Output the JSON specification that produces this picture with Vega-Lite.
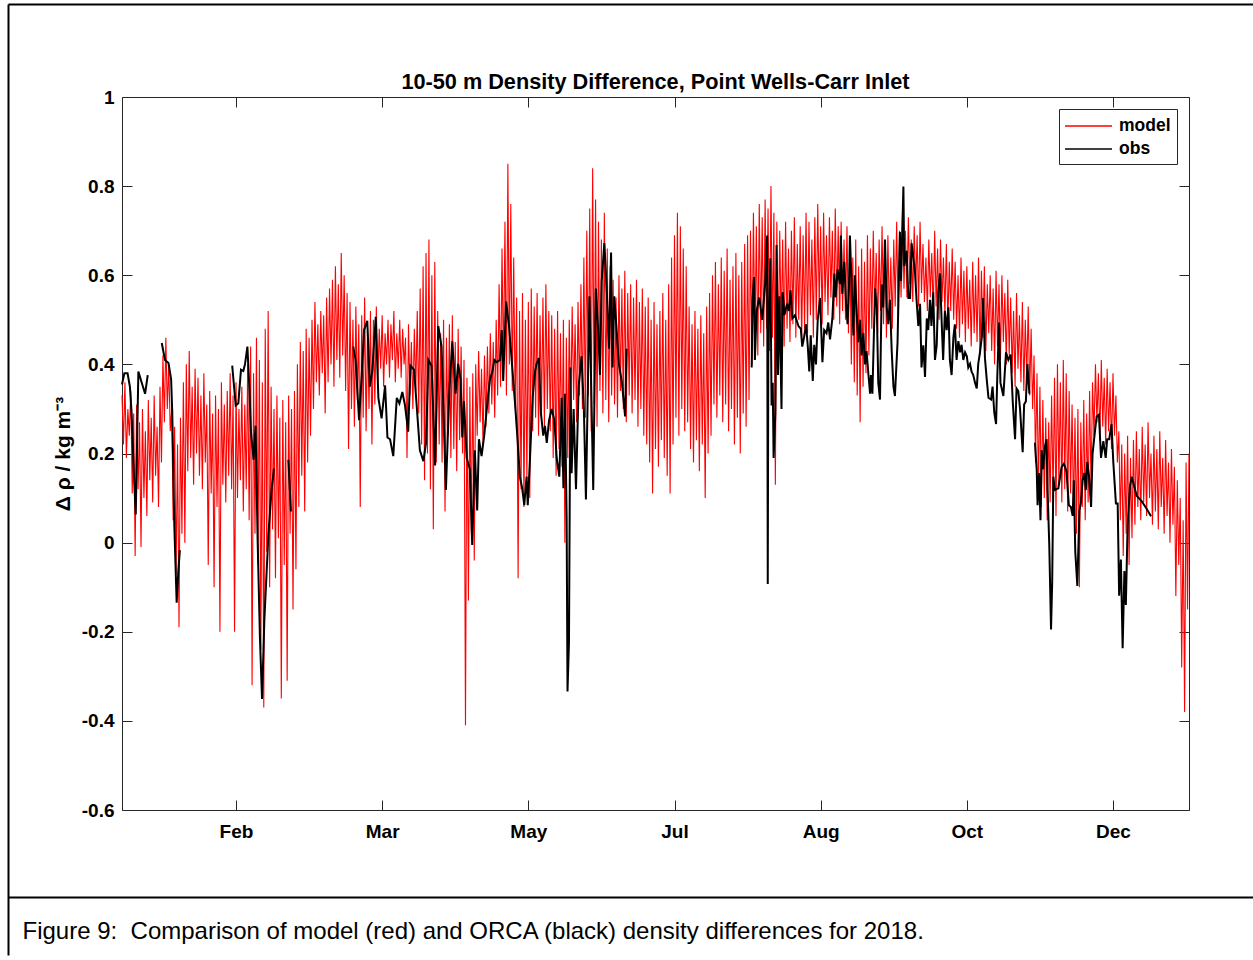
{
  "$schema": "https://vega.github.io/schema/vega-lite/v6.json",
  "padding": {"left": 5, "top": 4, "right": 0, "bottom": 0},
  "width": 1067,
  "height": 713,
  "background": "white",
  "config": {
    "font": "Liberation Sans",
    "view": {"stroke": "#262626", "strokeWidth": 1},
    "axis": {"grid": false, "labelColor": "black", "tickColor": "#262626", "tickWidth": 1, "titleColor": "black"}
  },
  "title": {
    "text": "10-50 m Density Difference, Point Wells-Carr Inlet",
    "font": "Liberation Sans",
    "fontSize": 21.7,
    "fontWeight": "bold",
    "color": "black",
    "anchor": "middle",
    "frame": "group",
    "offset": -90
  },
  "datasets": {
    "model": [
      {"d":0,"m":0.33},{"d":0.5,"m":0.22},{"d":1,"m":0.36},{"d":1.5,"m":0.19},{"d":2,"m":0.30},{"d":2.5,"m":0.24},{"d":3,"m":0.34},{"d":3.5,"m":0.11},{"d":4,"m":0.29},{"d":4.5,"m":-0.03},
      {"d":5,"m":0.31},{"d":5.5,"m":0.12},{"d":6,"m":0.27},{"d":6.5,"m":-0.01},{"d":7,"m":0.30},{"d":7.5,"m":0.10},{"d":8,"m":0.25},{"d":8.5,"m":0.06},{"d":9,"m":0.32},{"d":9.5,"m":0.14},
      {"d":10,"m":0.28},{"d":10.5,"m":0.09},{"d":11,"m":0.33},{"d":11.5,"m":0.15},{"d":12,"m":0.26},{"d":12.5,"m":0.08},{"d":13,"m":0.35},{"d":13.5,"m":0.18},{"d":14,"m":0.42},{"d":14.5,"m":0.27},
      {"d":15,"m":0.46},{"d":15.5,"m":0.30},{"d":16,"m":0.40},{"d":16.5,"m":0.25},{"d":17,"m":0.30},{"d":17.5,"m":0.05},{"d":18,"m":0.26},{"d":18.5,"m":-0.07},{"d":19,"m":0.22},{"d":19.5,"m":-0.19},
      {"d":20,"m":0.28},{"d":20.5,"m":0.02},{"d":21,"m":0.36},{"d":21.5,"m":0.00},{"d":22,"m":0.40},{"d":22.5,"m":0.16},{"d":23,"m":0.43},{"d":23.5,"m":0.19},{"d":24,"m":0.35},{"d":24.5,"m":0.13},
      {"d":25,"m":0.39},{"d":25.5,"m":0.20},{"d":26,"m":0.37},{"d":26.5,"m":0.15},{"d":27,"m":0.33},{"d":27.5,"m":0.12},{"d":28,"m":0.38},{"d":28.5,"m":0.18},{"d":29,"m":0.31},{"d":29.5,"m":-0.05},
      {"d":30,"m":0.34},{"d":30.5,"m":0.11},{"d":31,"m":0.29},{"d":31.5,"m":-0.10},{"d":32,"m":0.33},{"d":32.5,"m":0.08},{"d":33,"m":0.30},{"d":33.5,"m":-0.20},{"d":34,"m":0.36},{"d":34.5,"m":0.13},
      {"d":35,"m":0.31},{"d":35.5,"m":0.09},{"d":36,"m":0.34},{"d":36.5,"m":0.15},{"d":37,"m":0.38},{"d":37.5,"m":0.12},{"d":38,"m":0.33},{"d":38.5,"m":-0.20},{"d":39,"m":0.36},{"d":39.5,"m":0.10},
      {"d":40,"m":0.30},{"d":40.5,"m":0.14},{"d":41,"m":0.35},{"d":41.5,"m":0.07},{"d":42,"m":0.31},{"d":42.5,"m":0.12},{"d":43,"m":0.40},{"d":43.5,"m":0.05},{"d":44,"m":0.44},{"d":44.5,"m":-0.32},
      {"d":45,"m":0.38},{"d":45.5,"m":0.02},{"d":46,"m":0.46},{"d":46.5,"m":-0.05},{"d":47,"m":0.41},{"d":47.5,"m":-0.24},{"d":48,"m":0.36},{"d":48.5,"m":-0.37},{"d":49,"m":0.48},{"d":49.5,"m":-0.02},
      {"d":50,"m":0.52},{"d":50.5,"m":-0.10},{"d":51,"m":0.35},{"d":51.5,"m":0.03},{"d":52,"m":0.30},{"d":52.5,"m":-0.08},{"d":53,"m":0.33},{"d":53.5,"m":0.01},{"d":54,"m":0.28},{"d":54.5,"m":-0.35},
      {"d":55,"m":0.32},{"d":55.5,"m":-0.05},{"d":56,"m":0.27},{"d":56.5,"m":-0.31},{"d":57,"m":0.33},{"d":57.5,"m":0.02},{"d":58,"m":0.30},{"d":58.5,"m":-0.15},{"d":59,"m":0.34},{"d":59.5,"m":-0.06},
      {"d":60,"m":0.40},{"d":60.5,"m":0.08},{"d":61,"m":0.45},{"d":61.5,"m":0.15},{"d":62,"m":0.43},{"d":62.5,"m":0.07},{"d":63,"m":0.48},{"d":63.5,"m":0.18},{"d":64,"m":0.46},{"d":64.5,"m":0.24},
      {"d":65,"m":0.50},{"d":65.5,"m":0.30},{"d":66,"m":0.54},{"d":66.5,"m":0.36},{"d":67,"m":0.49},{"d":67.5,"m":0.33},{"d":68,"m":0.52},{"d":68.5,"m":0.38},{"d":69,"m":0.51},{"d":69.5,"m":0.29},
      {"d":70,"m":0.55},{"d":70.5,"m":0.36},{"d":71,"m":0.57},{"d":71.5,"m":0.40},{"d":72,"m":0.59},{"d":72.5,"m":0.35},{"d":73,"m":0.62},{"d":73.5,"m":0.41},{"d":74,"m":0.58},{"d":74.5,"m":0.37},
      {"d":75,"m":0.65},{"d":75.5,"m":0.42},{"d":76,"m":0.60},{"d":76.5,"m":0.34},{"d":77,"m":0.56},{"d":77.5,"m":0.21},{"d":78,"m":0.54},{"d":78.5,"m":0.30},{"d":79,"m":0.50},{"d":79.5,"m":0.26},
      {"d":80,"m":0.53},{"d":80.5,"m":0.32},{"d":81,"m":0.49},{"d":81.5,"m":0.08},{"d":82,"m":0.51},{"d":82.5,"m":0.28},{"d":83,"m":0.55},{"d":83.5,"m":0.25},{"d":84,"m":0.48},{"d":84.5,"m":0.30},
      {"d":85,"m":0.52},{"d":85.5,"m":0.22},{"d":86,"m":0.50},{"d":86.5,"m":0.31},{"d":87,"m":0.53},{"d":87.5,"m":0.36},{"d":88,"m":0.48},{"d":88.5,"m":0.39},{"d":89,"m":0.51},{"d":89.5,"m":0.35},
      {"d":90,"m":0.47},{"d":90.5,"m":0.40},{"d":91,"m":0.50},{"d":91.5,"m":0.37},{"d":92,"m":0.49},{"d":92.5,"m":0.41},{"d":93,"m":0.52},{"d":93.5,"m":0.36},{"d":94,"m":0.47},{"d":94.5,"m":0.39},
      {"d":95,"m":0.50},{"d":95.5,"m":0.37},{"d":96,"m":0.48},{"d":96.5,"m":0.40},{"d":97,"m":0.46},{"d":97.5,"m":0.19},{"d":98,"m":0.49},{"d":98.5,"m":0.33},{"d":99,"m":0.45},{"d":99.5,"m":0.30},
      {"d":100,"m":0.48},{"d":100.5,"m":0.34},{"d":101,"m":0.52},{"d":101.5,"m":0.29},{"d":102,"m":0.57},{"d":102.5,"m":0.22},{"d":103,"m":0.62},{"d":103.5,"m":0.14},{"d":104,"m":0.65},{"d":104.5,"m":0.20},
      {"d":105,"m":0.68},{"d":105.5,"m":0.12},{"d":106,"m":0.60},{"d":106.5,"m":0.03},{"d":107,"m":0.63},{"d":107.5,"m":0.18},{"d":108,"m":0.52},{"d":108.5,"m":0.22},{"d":109,"m":0.47},{"d":109.5,"m":0.18},
      {"d":110,"m":0.50},{"d":110.5,"m":0.07},{"d":111,"m":0.46},{"d":111.5,"m":0.24},{"d":112,"m":0.49},{"d":112.5,"m":0.19},{"d":113,"m":0.51},{"d":113.5,"m":0.21},{"d":114,"m":0.45},{"d":114.5,"m":0.16},
      {"d":115,"m":0.48},{"d":115.5,"m":0.23},{"d":116,"m":0.44},{"d":116.5,"m":0.20},{"d":117,"m":0.41},{"d":117.5,"m":-0.41},{"d":118,"m":0.37},{"d":118.5,"m":-0.13},{"d":119,"m":0.35},{"d":119.5,"m":0.02},
      {"d":120,"m":0.38},{"d":120.5,"m":-0.04},{"d":121,"m":0.40},{"d":121.5,"m":0.24},{"d":122,"m":0.43},{"d":122.5,"m":0.27},{"d":123,"m":0.39},{"d":123.5,"m":0.22},{"d":124,"m":0.42},{"d":124.5,"m":0.26},
      {"d":125,"m":0.44},{"d":125.5,"m":0.29},{"d":126,"m":0.47},{"d":126.5,"m":0.31},{"d":127,"m":0.45},{"d":127.5,"m":0.28},{"d":128,"m":0.50},{"d":128.5,"m":0.33},{"d":129,"m":0.58},{"d":129.5,"m":0.35},
      {"d":130,"m":0.66},{"d":130.5,"m":0.38},{"d":131,"m":0.72},{"d":131.5,"m":0.33},{"d":132,"m":0.85},{"d":132.5,"m":0.40},{"d":133,"m":0.76},{"d":133.5,"m":0.34},{"d":134,"m":0.64},{"d":134.5,"m":0.30},
      {"d":135,"m":0.55},{"d":135.5,"m":-0.08},{"d":136,"m":0.52},{"d":136.5,"m":0.12},{"d":137,"m":0.56},{"d":137.5,"m":0.08},{"d":138,"m":0.50},{"d":138.5,"m":0.14},{"d":139,"m":0.54},{"d":139.5,"m":0.10},
      {"d":140,"m":0.57},{"d":140.5,"m":0.25},{"d":141,"m":0.53},{"d":141.5,"m":0.28},{"d":142,"m":0.56},{"d":142.5,"m":0.24},{"d":143,"m":0.51},{"d":143.5,"m":0.29},{"d":144,"m":0.55},{"d":144.5,"m":0.26},
      {"d":145,"m":0.58},{"d":145.5,"m":0.30},{"d":146,"m":0.52},{"d":146.5,"m":0.25},{"d":147,"m":0.51},{"d":147.5,"m":0.19},{"d":148,"m":0.48},{"d":148.5,"m":0.15},{"d":149,"m":0.52},{"d":149.5,"m":0.21},
      {"d":150,"m":0.47},{"d":150.5,"m":0.17},{"d":151,"m":0.50},{"d":151.5,"m":0.00},{"d":152,"m":0.46},{"d":152.5,"m":0.19},{"d":153,"m":0.50},{"d":153.5,"m":0.29},{"d":154,"m":0.53},{"d":154.5,"m":0.32},
      {"d":155,"m":0.49},{"d":155.5,"m":0.27},{"d":156,"m":0.54},{"d":156.5,"m":0.33},{"d":157,"m":0.58},{"d":157.5,"m":0.30},{"d":158,"m":0.64},{"d":158.5,"m":0.28},{"d":159,"m":0.70},{"d":159.5,"m":0.33},
      {"d":160,"m":0.75},{"d":160.5,"m":0.25},{"d":161,"m":0.84},{"d":161.5,"m":0.31},{"d":162,"m":0.77},{"d":162.5,"m":0.26},{"d":163,"m":0.72},{"d":163.5,"m":0.34},{"d":164,"m":0.68},{"d":164.5,"m":0.29},
      {"d":165,"m":0.74},{"d":165.5,"m":0.32},{"d":166,"m":0.66},{"d":166.5,"m":0.27},{"d":167,"m":0.62},{"d":167.5,"m":0.33},{"d":168,"m":0.59},{"d":168.5,"m":0.31},{"d":169,"m":0.55},{"d":169.5,"m":0.28},
      {"d":170,"m":0.60},{"d":170.5,"m":0.34},{"d":171,"m":0.57},{"d":171.5,"m":0.30},{"d":172,"m":0.61},{"d":172.5,"m":0.27},{"d":173,"m":0.56},{"d":173.5,"m":0.33},{"d":174,"m":0.58},{"d":174.5,"m":0.29},
      {"d":175,"m":0.55},{"d":175.5,"m":0.32},{"d":176,"m":0.59},{"d":176.5,"m":0.26},{"d":177,"m":0.54},{"d":177.5,"m":0.30},{"d":178,"m":0.57},{"d":178.5,"m":0.24},{"d":179,"m":0.53},{"d":179.5,"m":0.22},
      {"d":180,"m":0.55},{"d":180.5,"m":0.18},{"d":181,"m":0.50},{"d":181.5,"m":0.11},{"d":182,"m":0.54},{"d":182.5,"m":0.21},{"d":183,"m":0.49},{"d":183.5,"m":0.17},{"d":184,"m":0.52},{"d":184.5,"m":0.23},
      {"d":185,"m":0.56},{"d":185.5,"m":0.19},{"d":186,"m":0.50},{"d":186.5,"m":0.15},{"d":187,"m":0.58},{"d":187.5,"m":0.11},{"d":188,"m":0.64},{"d":188.5,"m":0.22},{"d":189,"m":0.69},{"d":189.5,"m":0.28},
      {"d":190,"m":0.74},{"d":190.5,"m":0.24},{"d":191,"m":0.71},{"d":191.5,"m":0.30},{"d":192,"m":0.66},{"d":192.5,"m":0.25},{"d":193,"m":0.62},{"d":193.5,"m":0.27},{"d":194,"m":0.53},{"d":194.5,"m":0.21},
      {"d":195,"m":0.49},{"d":195.5,"m":0.18},{"d":196,"m":0.52},{"d":196.5,"m":0.23},{"d":197,"m":0.48},{"d":197.5,"m":0.16},{"d":198,"m":0.51},{"d":198.5,"m":0.22},{"d":199,"m":0.47},{"d":199.5,"m":0.10},
      {"d":200,"m":0.53},{"d":200.5,"m":0.20},{"d":201,"m":0.56},{"d":201.5,"m":0.24},{"d":202,"m":0.60},{"d":202.5,"m":0.31},{"d":203,"m":0.63},{"d":203.5,"m":0.28},{"d":204,"m":0.58},{"d":204.5,"m":0.33},
      {"d":205,"m":0.64},{"d":205.5,"m":0.27},{"d":206,"m":0.61},{"d":206.5,"m":0.31},{"d":207,"m":0.66},{"d":207.5,"m":0.25},{"d":208,"m":0.59},{"d":208.5,"m":0.30},{"d":209,"m":0.62},{"d":209.5,"m":0.22},
      {"d":210,"m":0.65},{"d":210.5,"m":0.28},{"d":211,"m":0.60},{"d":211.5,"m":0.20},{"d":212,"m":0.63},{"d":212.5,"m":0.29},{"d":213,"m":0.67},{"d":213.5,"m":0.26},{"d":214,"m":0.69},{"d":214.5,"m":0.32},
      {"d":215,"m":0.70},{"d":215.5,"m":0.40},{"d":216,"m":0.74},{"d":216.5,"m":0.45},{"d":217,"m":0.71},{"d":217.5,"m":0.42},{"d":218,"m":0.76},{"d":218.5,"m":0.47},{"d":219,"m":0.73},{"d":219.5,"m":0.44},
      {"d":220,"m":0.77},{"d":220.5,"m":0.48},{"d":221,"m":0.75},{"d":221.5,"m":0.43},{"d":222,"m":0.80},{"d":222.5,"m":0.46},{"d":223,"m":0.74},{"d":223.5,"m":0.13},{"d":224,"m":0.72},{"d":224.5,"m":0.44},
      {"d":225,"m":0.70},{"d":225.5,"m":0.47},{"d":226,"m":0.68},{"d":226.5,"m":0.44},{"d":227,"m":0.72},{"d":227.5,"m":0.48},{"d":228,"m":0.66},{"d":228.5,"m":0.45},{"d":229,"m":0.70},{"d":229.5,"m":0.49},
      {"d":230,"m":0.73},{"d":230.5,"m":0.46},{"d":231,"m":0.67},{"d":231.5,"m":0.50},{"d":232,"m":0.71},{"d":232.5,"m":0.45},{"d":233,"m":0.69},{"d":233.5,"m":0.48},{"d":234,"m":0.74},{"d":234.5,"m":0.47},
      {"d":235,"m":0.72},{"d":235.5,"m":0.51},{"d":236,"m":0.68},{"d":236.5,"m":0.46},{"d":237,"m":0.73},{"d":237.5,"m":0.50},{"d":238,"m":0.76},{"d":238.5,"m":0.53},{"d":239,"m":0.71},{"d":239.5,"m":0.49},
      {"d":240,"m":0.74},{"d":240.5,"m":0.54},{"d":241,"m":0.69},{"d":241.5,"m":0.51},{"d":242,"m":0.73},{"d":242.5,"m":0.55},{"d":243,"m":0.70},{"d":243.5,"m":0.50},{"d":244,"m":0.75},{"d":244.5,"m":0.53},
      {"d":245,"m":0.71},{"d":245.5,"m":0.49},{"d":246,"m":0.72},{"d":246.5,"m":0.52},{"d":247,"m":0.68},{"d":247.5,"m":0.50},{"d":248,"m":0.71},{"d":248.5,"m":0.47},{"d":249,"m":0.67},{"d":249.5,"m":0.40},
      {"d":250,"m":0.64},{"d":250.5,"m":0.36},{"d":251,"m":0.68},{"d":251.5,"m":0.33},{"d":252,"m":0.62},{"d":252.5,"m":0.27},{"d":253,"m":0.66},{"d":253.5,"m":0.35},{"d":254,"m":0.63},{"d":254.5,"m":0.38},
      {"d":255,"m":0.69},{"d":255.5,"m":0.42},{"d":256,"m":0.66},{"d":256.5,"m":0.48},{"d":257,"m":0.70},{"d":257.5,"m":0.51},{"d":258,"m":0.65},{"d":258.5,"m":0.47},{"d":259,"m":0.68},{"d":259.5,"m":0.52},
      {"d":260,"m":0.71},{"d":260.5,"m":0.49},{"d":261,"m":0.67},{"d":261.5,"m":0.46},{"d":262,"m":0.69},{"d":262.5,"m":0.50},{"d":263,"m":0.64},{"d":263.5,"m":0.48},{"d":264,"m":0.68},{"d":264.5,"m":0.53},
      {"d":265,"m":0.72},{"d":265.5,"m":0.51},{"d":266,"m":0.70},{"d":266.5,"m":0.55},{"d":267,"m":0.74},{"d":267.5,"m":0.57},{"d":268,"m":0.70},{"d":268.5,"m":0.55},{"d":269,"m":0.73},{"d":269.5,"m":0.58},
      {"d":270,"m":0.68},{"d":270.5,"m":0.54},{"d":271,"m":0.71},{"d":271.5,"m":0.57},{"d":272,"m":0.69},{"d":272.5,"m":0.53},{"d":273,"m":0.72},{"d":273.5,"m":0.56},{"d":274,"m":0.67},{"d":274.5,"m":0.54},
      {"d":275,"m":0.64},{"d":275.5,"m":0.52},{"d":276,"m":0.68},{"d":276.5,"m":0.55},{"d":277,"m":0.65},{"d":277.5,"m":0.51},{"d":278,"m":0.70},{"d":278.5,"m":0.53},{"d":279,"m":0.66},{"d":279.5,"m":0.50},
      {"d":280,"m":0.68},{"d":280.5,"m":0.54},{"d":281,"m":0.64},{"d":281.5,"m":0.51},{"d":282,"m":0.67},{"d":282.5,"m":0.49},{"d":283,"m":0.63},{"d":283.5,"m":0.52},{"d":284,"m":0.66},{"d":284.5,"m":0.50},
      {"d":285,"m":0.63},{"d":285.5,"m":0.48},{"d":286,"m":0.60},{"d":286.5,"m":0.46},{"d":287,"m":0.64},{"d":287.5,"m":0.49},{"d":288,"m":0.61},{"d":288.5,"m":0.45},{"d":289,"m":0.62},{"d":289.5,"m":0.48},
      {"d":290,"m":0.59},{"d":290.5,"m":0.44},{"d":291,"m":0.63},{"d":291.5,"m":0.47},{"d":292,"m":0.60},{"d":292.5,"m":0.45},{"d":293,"m":0.64},{"d":293.5,"m":0.42},{"d":294,"m":0.61},{"d":294.5,"m":0.46},
      {"d":295,"m":0.62},{"d":295.5,"m":0.43},{"d":296,"m":0.58},{"d":296.5,"m":0.47},{"d":297,"m":0.60},{"d":297.5,"m":0.43},{"d":298,"m":0.57},{"d":298.5,"m":0.40},{"d":299,"m":0.61},{"d":299.5,"m":0.44},
      {"d":300,"m":0.58},{"d":300.5,"m":0.41},{"d":301,"m":0.60},{"d":301.5,"m":0.45},{"d":302,"m":0.56},{"d":302.5,"m":0.40},{"d":303,"m":0.59},{"d":303.5,"m":0.42},{"d":304,"m":0.55},{"d":304.5,"m":0.38},
      {"d":305,"m":0.52},{"d":305.5,"m":0.35},{"d":306,"m":0.56},{"d":306.5,"m":0.39},{"d":307,"m":0.51},{"d":307.5,"m":0.36},{"d":308,"m":0.54},{"d":308.5,"m":0.34},{"d":309,"m":0.50},{"d":309.5,"m":0.37},
      {"d":310,"m":0.53},{"d":310.5,"m":0.33},{"d":311,"m":0.48},{"d":311.5,"m":0.30},{"d":312,"m":0.42},{"d":312.5,"m":0.18},{"d":313,"m":0.38},{"d":313.5,"m":0.12},{"d":314,"m":0.35},{"d":314.5,"m":0.08},
      {"d":315,"m":0.32},{"d":315.5,"m":0.10},{"d":316,"m":0.28},{"d":316.5,"m":0.05},{"d":317,"m":0.27},{"d":317.5,"m":0.09},{"d":318,"m":0.33},{"d":318.5,"m":0.10},{"d":319,"m":0.37},{"d":319.5,"m":0.06},
      {"d":320,"m":0.40},{"d":320.5,"m":0.13},{"d":321,"m":0.36},{"d":321.5,"m":0.09},{"d":322,"m":0.41},{"d":322.5,"m":0.12},{"d":323,"m":0.38},{"d":323.5,"m":0.07},{"d":324,"m":0.34},{"d":324.5,"m":0.11},
      {"d":325,"m":0.31},{"d":325.5,"m":0.06},{"d":326,"m":0.28},{"d":326.5,"m":0.02},{"d":327,"m":0.30},{"d":327.5,"m":-0.10},{"d":328,"m":0.27},{"d":328.5,"m":0.08},{"d":329,"m":0.32},{"d":329.5,"m":0.05},
      {"d":330,"m":0.29},{"d":330.5,"m":0.09},{"d":331,"m":0.34},{"d":331.5,"m":0.12},{"d":332,"m":0.36},{"d":332.5,"m":0.24},{"d":333,"m":0.40},{"d":333.5,"m":0.27},{"d":334,"m":0.38},{"d":334.5,"m":0.23},
      {"d":335,"m":0.41},{"d":335.5,"m":0.26},{"d":336,"m":0.37},{"d":336.5,"m":0.22},{"d":337,"m":0.39},{"d":337.5,"m":0.25},{"d":338,"m":0.36},{"d":338.5,"m":0.21},{"d":339,"m":0.38},{"d":339.5,"m":0.24},
      {"d":340,"m":0.33},{"d":340.5,"m":0.18},{"d":341,"m":0.25},{"d":341.5,"m":0.05},{"d":342,"m":0.22},{"d":342.5,"m":-0.03},{"d":343,"m":0.20},{"d":343.5,"m":0.02},{"d":344,"m":0.24},{"d":344.5,"m":-0.05},
      {"d":345,"m":0.19},{"d":345.5,"m":0.01},{"d":346,"m":0.23},{"d":346.5,"m":0.04},{"d":347,"m":0.25},{"d":347.5,"m":0.08},{"d":348,"m":0.21},{"d":348.5,"m":0.05},{"d":349,"m":0.26},{"d":349.5,"m":0.09},
      {"d":350,"m":0.22},{"d":350.5,"m":0.06},{"d":351,"m":0.27},{"d":351.5,"m":0.10},{"d":352,"m":0.20},{"d":352.5,"m":0.04},{"d":353,"m":0.24},{"d":353.5,"m":0.07},{"d":354,"m":0.21},{"d":354.5,"m":0.03},
      {"d":355,"m":0.25},{"d":355.5,"m":0.08},{"d":356,"m":0.19},{"d":356.5,"m":0.02},{"d":357,"m":0.23},{"d":357.5,"m":0.06},{"d":358,"m":0.18},{"d":358.5,"m":0.00},{"d":359,"m":0.21},{"d":359.5,"m":0.04},
      {"d":360,"m":0.17},{"d":360.5,"m":-0.12},{"d":361,"m":0.14},{"d":361.5,"m":-0.05},{"d":362,"m":0.10},{"d":362.5,"m":-0.28},{"d":363,"m":0.05},{"d":363.5,"m":-0.38},{"d":364,"m":0.18},{"d":364.5,"m":-0.15},
      {"d":365,"m":0.20}
    ],
    "obs": [
      {"d":0,"o":0.355,"g":1},{"d":0.8,"o":0.38,"g":1},{"d":1.9,"o":0.38,"g":1},{"d":2.7,"o":0.35,"g":1},{"d":3.3,"o":0.29,"g":1},{"d":3.9,"o":0.18,"g":1},{"d":4.7,"o":0.063,"g":1},{"d":5.6,"o":0.384,"g":1},{"d":6.7,"o":0.36,"g":1},{"d":7.9,"o":0.334,"g":1},{"d":8.8,"o":0.376,"g":1},
      {"d":13.6,"o":0.448,"g":2},{"d":14.7,"o":0.41,"g":2},{"d":15.9,"o":0.403,"g":2},{"d":16.8,"o":0.367,"g":2},{"d":17.2,"o":0.29,"g":2},{"d":17.9,"o":0.038,"g":2},{"d":18.7,"o":-0.135,"g":2},{"d":19.3,"o":-0.06,"g":2},{"d":19.8,"o":-0.017,"g":2},
      {"d":37.7,"o":0.397,"g":3},{"d":38.9,"o":0.308,"g":3},{"d":39.8,"o":0.313,"g":3},{"d":40.7,"o":0.388,"g":3},{"d":41.5,"o":0.385,"g":3},{"d":42.1,"o":0.401,"g":3},{"d":42.9,"o":0.44,"g":3},{"d":43.6,"o":0.342,"g":3},{"d":44.1,"o":0.25,"g":3},{"d":45.0,"o":0.186,"g":3},{"d":45.7,"o":0.262,"g":3},{"d":46.4,"o":0.004,"g":3},{"d":47.2,"o":-0.216,"g":3},{"d":47.9,"o":-0.351,"g":3},{"d":48.7,"o":-0.173,"g":3},{"d":50.1,"o":0.021,"g":3},{"d":51.2,"o":0.122,"g":3},{"d":52.0,"o":0.166,"g":3},
      {"d":56.9,"o":0.186,"g":4},{"d":57.8,"o":0.07,"g":4},
      {"d":79.1,"o":0.44,"g":5},{"d":79.9,"o":0.41,"g":5},{"d":81.1,"o":0.275,"g":5},{"d":82.0,"o":0.376,"g":5},{"d":82.8,"o":0.477,"g":5},{"d":83.9,"o":0.498,"g":5},{"d":84.8,"o":0.35,"g":5},{"d":85.6,"o":0.384,"g":5},{"d":86.8,"o":0.507,"g":5},{"d":87.7,"o":0.325,"g":5},
      {"d":88.8,"o":0.279,"g":5},{"d":90.0,"o":0.353,"g":5},{"d":90.8,"o":0.236,"g":5},{"d":91.7,"o":0.232,"g":5},{"d":92.8,"o":0.194,"g":5},{"d":94.0,"o":0.325,"g":5},{"d":94.9,"o":0.312,"g":5},{"d":95.9,"o":0.338,"g":5},{"d":96.8,"o":0.308,"g":5},{"d":97.9,"o":0.249,"g":5},
      {"d":98.7,"o":0.397,"g":5},{"d":99.9,"o":0.388,"g":5},{"d":100.8,"o":0.308,"g":5},{"d":101.9,"o":0.207,"g":5},{"d":103.1,"o":0.183,"g":5},{"d":104.0,"o":0.224,"g":5},{"d":104.8,"o":0.41,"g":5},{"d":105.9,"o":0.397,"g":5},{"d":107.1,"o":0.173,"g":5},{"d":108.2,"o":0.486,"g":5},
      {"d":109.3,"o":0.44,"g":5},{"d":110.8,"o":0.118,"g":5},{"d":112.0,"o":0.342,"g":5},{"d":113.0,"o":0.452,"g":5},{"d":114.1,"o":0.334,"g":5},{"d":115.0,"o":0.401,"g":5},{"d":115.8,"o":0.367,"g":5},{"d":116.4,"o":0.236,"g":5},{"d":117.0,"o":0.317,"g":5},{"d":117.9,"o":0.19,"g":5},
      {"d":119.0,"o":0.165,"g":5},{"d":119.8,"o":-0.005,"g":5},{"d":120.7,"o":0.207,"g":5},{"d":121.5,"o":0.072,"g":5},{"d":122.1,"o":0.232,"g":5},{"d":123.0,"o":0.194,"g":5},{"d":123.9,"o":0.24,"g":5},{"d":125.3,"o":0.334,"g":5},{"d":125.9,"o":0.367,"g":5},{"d":126.7,"o":0.384,"g":5},
      {"d":127.4,"o":0.41,"g":5},{"d":128.2,"o":0.405,"g":5},{"d":129.3,"o":0.41,"g":5},{"d":129.9,"o":0.477,"g":5},{"d":130.4,"o":0.363,"g":5},{"d":131.4,"o":0.541,"g":5},{"d":132.4,"o":0.486,"g":5},{"d":133.3,"o":0.41,"g":5},{"d":134.4,"o":0.317,"g":5},{"d":135.3,"o":0.232,"g":5},
      {"d":136.1,"o":0.148,"g":5},{"d":136.9,"o":0.122,"g":5},{"d":137.6,"o":0.084,"g":5},{"d":138.4,"o":0.148,"g":5},{"d":138.8,"o":0.084,"g":5},{"d":139.6,"o":0.194,"g":5},{"d":140.5,"o":0.329,"g":5},{"d":141.3,"o":0.384,"g":5},{"d":141.8,"o":0.401,"g":5},{"d":142.6,"o":0.414,"g":5},
      {"d":143.3,"o":0.291,"g":5},{"d":144.1,"o":0.24,"g":5},{"d":144.7,"o":0.262,"g":5},{"d":145.3,"o":0.224,"g":5},{"d":146.1,"o":0.275,"g":5},{"d":147.0,"o":0.3,"g":5},{"d":147.9,"o":0.275,"g":5},{"d":148.7,"o":0.19,"g":5},{"d":149.6,"o":0.148,"g":5},{"d":150.4,"o":0.325,"g":5},
      {"d":151.0,"o":0.122,"g":5},{"d":151.5,"o":0.334,"g":5},{"d":152.1,"o":0.055,"g":5},{"d":152.4,"o":-0.334,"g":5},{"d":152.9,"o":-0.224,"g":5},{"d":153.4,"o":0.393,"g":5},{"d":153.8,"o":0.156,"g":5},{"d":154.5,"o":0.30,"g":5},{"d":155.3,"o":0.12,"g":5},{"d":156.2,"o":0.35,"g":5},
      {"d":157.2,"o":0.418,"g":5},{"d":158.0,"o":0.30,"g":5},{"d":158.7,"o":0.097,"g":5},{"d":159.9,"o":0.553,"g":5},{"d":161.2,"o":0.118,"g":5},{"d":162.1,"o":0.57,"g":5},{"d":162.9,"o":0.477,"g":5},{"d":163.5,"o":0.376,"g":5},{"d":164.1,"o":0.587,"g":5},{"d":165.0,"o":0.672,"g":5},
      {"d":165.8,"o":0.57,"g":5},{"d":166.6,"o":0.435,"g":5},{"d":167.3,"o":0.651,"g":5},{"d":167.8,"o":0.393,"g":5},{"d":168.4,"o":0.553,"g":5},{"d":169.2,"o":0.477,"g":5},{"d":170.0,"o":0.40,"g":5},{"d":171.0,"o":0.36,"g":5},{"d":172.1,"o":0.283,"g":5},{"d":172.6,"o":0.435,"g":5},
      {"d":215.4,"o":0.393,"g":6},{"d":215.7,"o":0.545,"g":6},{"d":216.2,"o":0.596,"g":6},{"d":216.5,"o":0.41,"g":6},{"d":217.1,"o":0.52,"g":6},{"d":218.0,"o":0.55,"g":6},{"d":219.0,"o":0.50,"g":6},{"d":220.0,"o":0.58,"g":6},{"d":220.7,"o":0.689,"g":6},{"d":220.9,"o":-0.093,"g":6},
      {"d":221.1,"o":0.45,"g":6},{"d":221.8,"o":0.638,"g":6},{"d":222.2,"o":0.308,"g":6},{"d":222.6,"o":0.359,"g":6},{"d":222.9,"o":0.19,"g":6},{"d":223.5,"o":0.291,"g":6},{"d":223.9,"o":0.668,"g":6},{"d":224.4,"o":0.376,"g":6},{"d":224.9,"o":0.553,"g":6},{"d":225.6,"o":0.30,"g":6},
      {"d":226.0,"o":0.562,"g":6},{"d":226.6,"o":0.511,"g":6},{"d":227.5,"o":0.536,"g":6},{"d":228.1,"o":0.52,"g":6},{"d":228.7,"o":0.566,"g":6},{"d":229.3,"o":0.503,"g":6},{"d":230.2,"o":0.51,"g":6},{"d":231.4,"o":0.486,"g":6},{"d":232.2,"o":0.48,"g":6},{"d":232.7,"o":0.44,"g":6},
      {"d":233.3,"o":0.46,"g":6},{"d":234.0,"o":0.49,"g":6},{"d":234.6,"o":0.44,"g":6},{"d":235.1,"o":0.384,"g":6},{"d":235.6,"o":0.465,"g":6},{"d":236.3,"o":0.363,"g":6},{"d":236.8,"o":0.444,"g":6},{"d":237.4,"o":0.40,"g":6},{"d":238.0,"o":0.50,"g":6},{"d":238.8,"o":0.549,"g":6},
      {"d":239.6,"o":0.405,"g":6},{"d":240.2,"o":0.477,"g":6},{"d":241.0,"o":0.47,"g":6},{"d":241.6,"o":0.494,"g":6},{"d":242.2,"o":0.456,"g":6},{"d":243.0,"o":0.503,"g":6},{"d":243.7,"o":0.604,"g":6},{"d":244.1,"o":0.55,"g":6},{"d":244.8,"o":0.613,"g":6},{"d":245.6,"o":0.58,"g":6},
      {"d":245.9,"o":0.689,"g":6},{"d":246.4,"o":0.558,"g":6},{"d":247.1,"o":0.63,"g":6},{"d":247.7,"o":0.536,"g":6},{"d":248.2,"o":0.49,"g":6},{"d":248.7,"o":0.58,"g":6},{"d":249.0,"o":0.689,"g":6},{"d":249.6,"o":0.58,"g":6},{"d":250.2,"o":0.465,"g":6},{"d":250.7,"o":0.60,"g":6},
      {"d":251.3,"o":0.52,"g":6},{"d":251.9,"o":0.45,"g":6},{"d":252.5,"o":0.50,"g":6},{"d":253.0,"o":0.42,"g":6},{"d":253.6,"o":0.47,"g":6},{"d":254.2,"o":0.40,"g":6},{"d":254.7,"o":0.43,"g":6},{"d":255.3,"o":0.38,"g":6},{"d":255.9,"o":0.334,"g":6},{"d":256.2,"o":0.376,"g":6},
      {"d":256.7,"o":0.334,"g":6},{"d":257.6,"o":0.57,"g":6},{"d":258.2,"o":0.528,"g":6},{"d":258.7,"o":0.359,"g":6},{"d":259.3,"o":0.321,"g":6},{"d":259.9,"o":0.579,"g":6},{"d":260.4,"o":0.528,"g":6},{"d":261.0,"o":0.68,"g":6},{"d":261.6,"o":0.528,"g":6},{"d":262.1,"o":0.49,"g":6},
      {"d":262.7,"o":0.545,"g":6},{"d":263.3,"o":0.43,"g":6},{"d":263.9,"o":0.35,"g":6},{"d":264.4,"o":0.329,"g":6},{"d":265.3,"o":0.45,"g":6},{"d":266.1,"o":0.697,"g":6},{"d":266.5,"o":0.587,"g":6},{"d":267.3,"o":0.799,"g":6},{"d":267.6,"o":0.621,"g":6},{"d":268.4,"o":0.655,"g":6},
      {"d":269.0,"o":0.549,"g":6},{"d":269.6,"o":0.549,"g":6},{"d":270.1,"o":0.672,"g":6},{"d":270.7,"o":0.64,"g":6},{"d":271.3,"o":0.604,"g":6},{"d":271.8,"o":0.545,"g":6},{"d":272.4,"o":0.486,"g":6},{"d":273.0,"o":0.536,"g":6},{"d":273.5,"o":0.393,"g":6},{"d":274.1,"o":0.443,"g":6},
      {"d":274.7,"o":0.372,"g":6},{"d":275.3,"o":0.503,"g":6},{"d":275.8,"o":0.477,"g":6},{"d":276.4,"o":0.545,"g":6},{"d":276.9,"o":0.486,"g":6},{"d":277.5,"o":0.562,"g":6},{"d":278.1,"o":0.41,"g":6},{"d":278.7,"o":0.443,"g":6},{"d":279.2,"o":0.562,"g":6},{"d":279.8,"o":0.604,"g":6},
      {"d":280.4,"o":0.494,"g":6},{"d":280.9,"o":0.41,"g":6},{"d":281.5,"o":0.52,"g":6},{"d":282.1,"o":0.477,"g":6},{"d":282.7,"o":0.528,"g":6},{"d":283.2,"o":0.41,"g":6},{"d":283.8,"o":0.376,"g":6},{"d":284.4,"o":0.46,"g":6},{"d":284.9,"o":0.49,"g":6},{"d":285.5,"o":0.41,"g":6},
      {"d":286.1,"o":0.452,"g":6},{"d":286.7,"o":0.427,"g":6},{"d":287.2,"o":0.444,"g":6},{"d":287.8,"o":0.41,"g":6},{"d":288.4,"o":0.427,"g":6},{"d":289.0,"o":0.418,"g":6},{"d":289.5,"o":0.393,"g":6},{"d":290.1,"o":0.401,"g":6},{"d":290.6,"o":0.384,"g":6},{"d":291.2,"o":0.376,"g":6},
      {"d":291.8,"o":0.359,"g":6},{"d":292.4,"o":0.346,"g":6},{"d":292.9,"o":0.401,"g":6},{"d":293.5,"o":0.427,"g":6},{"d":294.1,"o":0.46,"g":6},{"d":294.6,"o":0.549,"g":6},{"d":295.2,"o":0.414,"g":6},{"d":295.8,"o":0.367,"g":6},{"d":296.4,"o":0.325,"g":6},{"d":297.3,"o":0.321,"g":6},
      {"d":297.8,"o":0.35,"g":6},{"d":298.4,"o":0.291,"g":6},{"d":299.0,"o":0.266,"g":6},{"d":299.4,"o":0.367,"g":6},{"d":300.0,"o":0.494,"g":6},{"d":300.5,"o":0.359,"g":6},{"d":301.5,"o":0.329,"g":6},{"d":302.4,"o":0.427,"g":6},{"d":303.2,"o":0.41,"g":6},{"d":304.0,"o":0.422,"g":6},
      {"d":304.7,"o":0.317,"g":6},{"d":305.5,"o":0.232,"g":6},{"d":306.0,"o":0.346,"g":6},{"d":306.6,"o":0.34,"g":6},{"d":307.2,"o":0.3,"g":6},{"d":308.1,"o":0.203,"g":6},{"d":308.6,"o":0.31,"g":6},{"d":309.2,"o":0.317,"g":6},{"d":309.7,"o":0.401,"g":6},{"d":310.4,"o":0.334,"g":6},
      {"d":312.3,"o":0.224,"g":7},{"d":312.9,"o":0.165,"g":7},{"d":313.2,"o":0.084,"g":7},{"d":313.7,"o":0.156,"g":7},{"d":314.2,"o":0.05,"g":7},{"d":314.6,"o":0.207,"g":7},{"d":315.1,"o":0.165,"g":7},{"d":315.7,"o":0.215,"g":7},{"d":316.3,"o":0.232,"g":7},{"d":316.6,"o":0.122,"g":7},
      {"d":317.2,"o":-0.005,"g":7},{"d":317.8,"o":-0.195,"g":7},{"d":318.2,"o":-0.089,"g":7},{"d":318.6,"o":0.148,"g":7},{"d":319.1,"o":0.118,"g":7},{"d":320.3,"o":0.122,"g":7},{"d":321.4,"o":0.169,"g":7},{"d":322.2,"o":0.177,"g":7},{"d":323.1,"o":0.16,"g":7},{"d":323.9,"o":0.084,"g":7},
      {"d":324.6,"o":0.08,"g":7},{"d":325.2,"o":0.06,"g":7},{"d":325.6,"o":0.14,"g":7},{"d":326.1,"o":-0.021,"g":7},{"d":326.8,"o":-0.097,"g":7},{"d":327.5,"o":0.072,"g":7},{"d":328.0,"o":0.088,"g":7},{"d":328.6,"o":0.14,"g":7},{"d":329.2,"o":0.156,"g":7},{"d":329.7,"o":0.118,"g":7},
      {"d":330.2,"o":0.181,"g":7},{"d":330.8,"o":0.15,"g":7},{"d":331.5,"o":0.08,"g":7},{"d":332.0,"o":0.198,"g":7},{"d":332.6,"o":0.236,"g":7},{"d":333.4,"o":0.283,"g":7},{"d":334.2,"o":0.287,"g":7},{"d":334.9,"o":0.19,"g":7},{"d":335.7,"o":0.228,"g":7},{"d":336.5,"o":0.19,"g":7},
      {"d":337.0,"o":0.232,"g":7},{"d":337.7,"o":0.232,"g":7},{"d":338.5,"o":0.266,"g":7},{"d":339.1,"o":0.181,"g":7},{"d":340.0,"o":0.088,"g":7},{"d":340.6,"o":0.088,"g":7},{"d":341.1,"o":-0.119,"g":7},{"d":341.7,"o":-0.038,"g":7},{"d":342.3,"o":-0.237,"g":7},{"d":342.9,"o":-0.064,"g":7},
      {"d":343.4,"o":-0.14,"g":7},{"d":344.0,"o":0.038,"g":7},{"d":344.8,"o":0.126,"g":7},{"d":345.4,"o":0.148,"g":7},{"d":347.1,"o":0.105,"g":7},{"d":348.8,"o":0.093,"g":7},{"d":350.5,"o":0.076,"g":7},{"d":352.0,"o":0.059,"g":7}
    ]
  },
  "layer": [
    {
      "layer": [
        {
          "data": {"name": "model"},
          "mark": {"type": "line", "strokeWidth": 1.1},
          "encoding": {
            "x": {
              "field": "d", "type": "quantitative",
              "scale": {"domain": [0, 365], "nice": false, "zero": false},
              "axis": {
                "orient": "bottom", "values": [39, 89, 139, 189, 239, 289, 339],
                "labelExpr": "timeFormat(datetime(2018, 0, 1 + datum.value), '%b')",
                "title": null, "domain": false, "tickSize": -10, "labelPadding": 22,
                "labelFont": "Liberation Sans", "labelFontSize": 19, "labelFontWeight": "bold"
              }
            },
            "y": {
              "field": "m", "type": "quantitative",
              "scale": {"domain": [-0.6, 1], "nice": false, "zero": false},
              "axis": {
                "orient": "left", "values": [-0.6, -0.4, -0.2, 0, 0.2, 0.4, 0.6, 0.8, 1],
                "labelExpr": "'' + datum.value",
                "title": "Δ ρ / kg m⁻³", "titleFont": "Liberation Sans", "titleFontSize": 21, "titleFontWeight": "bold", "titlePadding": 8,
                "domain": false, "tickSize": -10, "labelPadding": 18,
                "labelFont": "Liberation Sans", "labelFontSize": 19, "labelFontWeight": "bold"
              }
            },
            "color": {
              "datum": "model", "type": "nominal",
              "scale": {"domain": ["model", "obs"], "range": ["#ff0000", "#000000"]},
              "legend": {
                "orient": "top-right", "offset": 12, "title": null,
                "strokeColor": "#262626", "fillColor": "white", "padding": 6,
                "labelFont": "Liberation Sans", "labelFontSize": 17.5, "labelFontWeight": "bold", "labelColor": "black",
                "symbolType": "M-2.35,0H2.35", "symbolSize": 400, "symbolStrokeWidth": 1.5, "symbolOffset": 12.5,
                "rowPadding": 3, "labelOffset": 19.5
              }
            }
          }
        },
        {
          "data": {"name": "obs"},
          "mark": {"type": "line", "strokeWidth": 2},
          "encoding": {
            "x": {
              "field": "d", "type": "quantitative",
              "axis": {"orient": "top", "values": [39, 89, 139, 189, 239, 289, 339], "labels": false, "domain": false, "tickSize": -10, "title": null}
            },
            "y": {
              "field": "o", "type": "quantitative",
              "axis": {"orient": "right", "values": [-0.6, -0.4, -0.2, 0, 0.2, 0.4, 0.6, 0.8, 1], "labels": false, "domain": false, "tickSize": -10, "title": null}
            },
            "detail": {"field": "g", "type": "nominal"},
            "color": {"datum": "obs", "type": "nominal"}
          }
        }
      ],
      "resolve": {"axis": {"x": "independent", "y": "independent"}}
    },
    {
      "data": {"values": [{}]},
      "mark": {"type": "point", "opacity": 0},
      "encoding": {
        "x": {
          "datum": 0, "type": "quantitative",
          "scale": {"domain": [0, 1], "range": [-114, 1131]},
          "axis": {"orient": "top", "offset": 93, "ticks": false, "labels": false, "title": null, "domain": true, "domainColor": "black", "domainWidth": 2}
        },
        "y": {
          "datum": 0, "type": "quantitative",
          "scale": {"domain": [0, 1], "range": [858, -93]},
          "axis": {"orient": "left", "offset": 114, "ticks": false, "labels": false, "title": null, "domain": true, "domainColor": "black", "domainWidth": 2}
        }
      }
    },
    {
      "data": {"values": [{}]},
      "mark": {"type": "point", "opacity": 0},
      "encoding": {
        "x": {
          "datum": 0, "type": "quantitative",
          "scale": {"domain": [0, 1], "range": [-114, 1131]},
          "axis": {
            "orient": "bottom", "offset": 87, "ticks": false, "labels": false, "domain": true, "domainColor": "black", "domainWidth": 2,
            "title": "Figure 9:\u00a0 Comparison of model (red) and ORCA (black) density differences for 2018.",
            "titleFont": "Liberation Sans", "titleFontSize": 24, "titleFontWeight": "normal", "titleColor": "black",
            "titleAnchor": "start", "titleAlign": "left", "titleBaseline": "alphabetic", "titleX": -100, "titleY": 41
          }
        }
      }
    }
  ],
  "resolve": {"scale": {"x": "independent", "y": "independent"}, "axis": {"x": "independent", "y": "independent"}}
}
